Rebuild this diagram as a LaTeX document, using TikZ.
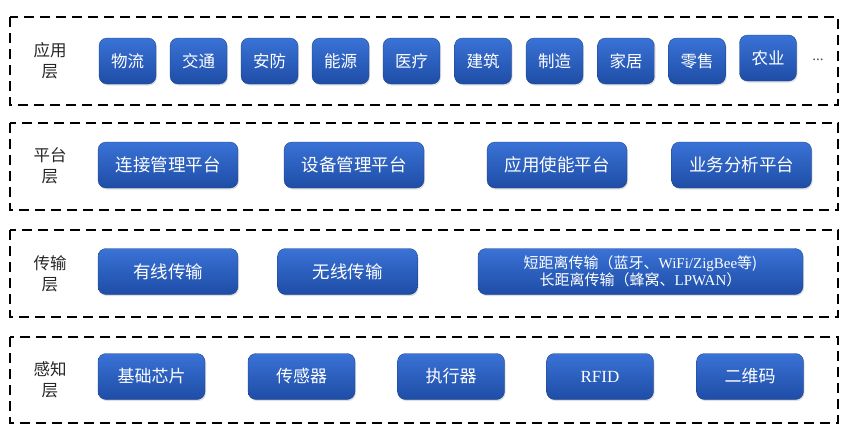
\documentclass[tikz,border=0pt]{standalone}
\usepackage{fontspec}
\setmainfont{Liberation Serif}
\newfontfamily\cjk{Noto Sans CJK SC}
\usetikzlibrary{positioning,
	shadows}
\definecolor{blkTop}{HTML}{3A72D6}
\definecolor{blkBot}{HTML}{1E4DA6}
\tikzstyle{layer}=[draw, line width=2.4pt, dash pattern=on 10pt off 6pt]
\tikzstyle{lbl}=[align=center, inner sep=0, text=black!85,
		font=\cjk\fontsize{16.5}{21}\selectfont]
\tikzstyle{blk}=[draw=blkBot!80!black, line width=0.3pt, rounded corners=8pt,
		top color=blkTop, bottom color=blkBot, text=white, inner sep=0,
		minimum height=46pt, font=\cjk\fontsize{16.5}{19}\selectfont,
		drop shadow={opacity=0.25, shadow xshift=1pt, shadow yshift=-1.5pt}]
\tikzstyle{sm}=[blk, minimum width=57pt]
\tikzstyle{md}=[blk, minimum width=140pt, font=\cjk\fontsize{17.5}{20}\selectfont]
\tikzstyle{sh}=[blk, minimum width=107pt, font=\cjk\fontsize{17}{20}\selectfont]

\begin{document}
\begin{tikzpicture}[x=1pt, y=-1pt]
                \useasboundingbox (0,0) rectangle (854,431);
                % application layer
                \draw[layer] (10,17) rectangle (838,105);
                \node[lbl] (appl) at (50,61) {应用\\层};
                \node[sm] (wuliu) at (127.5,61) {物流};
                \node[sm] (jiaotong) at (198.5,61) {交通};
                \node[sm] (anfang) at (269.5,61) {安防};
                \node[sm] (nengyuan) at (340.5,61) {能源};
                \node[sm] (yiliao) at (411.5,61) {医疗};
                \node[sm] (jianzhu) at (483,61) {建筑};
                \node[sm] (zhizao) at (554.5,61) {制造};
                \node[sm] (jiaju) at (626,61) {家居};
                \node[sm] (lingshou) at (697,61) {零售};
                \node[sm] (nongye) at (768,58) {农业};
                \node[font=\rmfamily\fontsize{15}{16}\selectfont, text=black!70] (more) at (818,60) {...};
                % platform layer
                \draw[layer] (10,123) rectangle (838,210);
                \node[lbl] (platl) at (50,166) {平台\\层};
                \node[md] (lianjie) at (168,165) {连接管理平台};
                \node[md] (shebei) at (354,165) {设备管理平台};
                \node[md] (shineng) at (557,165) {应用使能平台};
                \node[md] (fenxi) at (741.5,165) {业务分析平台};
                % transport layer
                \draw[layer] (10,230) rectangle (838,317);
                \node[lbl] (tranl) at (50,274) {传输\\层};
                \node[md] (youxian) at (168,271.5) {有线传输};
                \node[md] (wuxian) at (347.5,271.5) {无线传输};
                \node[blk, minimum width=325pt, align=center,
                      font=\fontsize{15}{17}\selectfont] (juli) at (640.5,271.5)
                      {{\cjk 短距离传输（蓝牙、}WiFi/ZigBee{\cjk 等}{\cjk )}\\
                       {\cjk 长距离传输（蜂窝、}LPWAN{\cjk ）}};
                % perception layer
                \draw[layer] (10,337) rectangle (838,423);
                \node[lbl] (percl) at (50,380) {感知\\层};
                \node[sh] (xinpian) at (151.5,376.5) {基础芯片};
                \node[sh] (chuanganqi) at (301.5,376.5) {传感器};
                \node[sh] (zhixingqi) at (451,376.5) {执行器};
                \node[sh, font=\rmfamily\fontsize{17}{20}\selectfont] (rfid) at (600,376.5) {RFID};
                \node[sh] (erweima) at (750,376.5) {二维码};
            \end{tikzpicture}
\end{document}
